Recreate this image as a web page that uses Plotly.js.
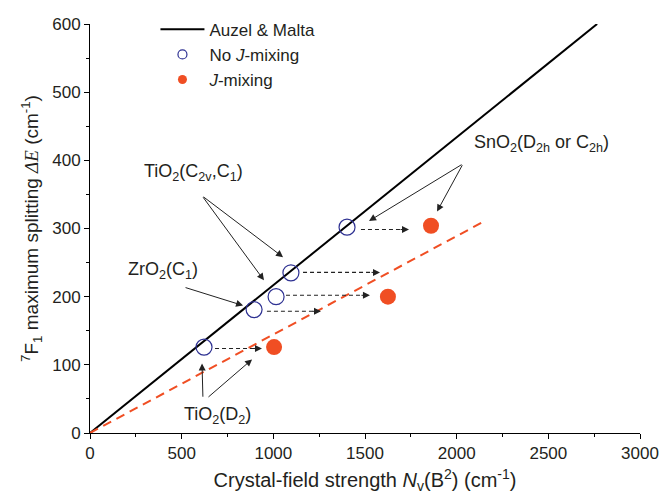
<!DOCTYPE html>
<html>
<head>
<meta charset="utf-8">
<script src="https://cdn.plot.ly/plotly-3.0.1.min.js"></script>
<style>html,body{margin:0;padding:0;background:#fff;}</style>
</head>
<body>
<div id="chart" style="width:662px;height:502px;"></div>
<script>
// ---- data ----
const auzelX = [0, 2766];
const auzelY = [0, 600];
const fitX = [0, 2160];
const fitY = [0, 312];
const noJX = [622, 895, 1015, 1096, 1402];
const noJY = [126, 181, 200, 235, 302];
const jX = [1004, 1625, 1860];
const jY = [126, 200, 304];
// dashed shift arrows (start x, end x, y)
const shiftStartX = [682, 965, 1069, 1162, 1478];
const shiftEndX = [938, 1260, 1527, 1582, 1740];
const shiftY = [124, 178.5, 202, 235.6, 298.5];
// labels and their arrows
const labelText = [
  'SnO<sub>2</sub>(D<sub>2h</sub> or C<sub>2h</sub>)',
  'TiO<sub>2</sub>(C<sub>2v</sub>,C<sub>1</sub>)',
  'ZrO<sub>2</sub>(C<sub>1</sub>)',
  'TiO<sub>2</sub>(D<sub>2</sub>)'
];
const labelX = [2460, 567, 400, 693];
const labelY = [424, 382, 239, 25];
const arrowTailX = [2035, 2035, 611, 611, 513, 616, 638];
const arrowTailY = [395, 395, 348, 348, 214, 51, 51];
const arrowHeadX = [1522, 1893, 1053, 949, 835, 611, 884];
const arrowHeadY = [311, 325, 258, 224, 187, 102, 108];

const FONT = 'Arial, "Liberation Sans", sans-serif';
const TXT = '#231f20';
const ORANGE = '#f04e23';
const BLUE = '#2e3192';

const traces = [
  {x: auzelX, y: auzelY, mode: 'lines', line: {color: '#000', width: 2}, name: 'Auzel &amp; Malta', showlegend: true, hoverinfo: 'skip'},
  {x: fitX, y: fitY, mode: 'lines', line: {color: ORANGE, width: 2, dash: '9px,6px'}, showlegend: false, hoverinfo: 'skip'}
];
for (let i = 0; i < shiftY.length; i++) {
  traces.push({x: [shiftStartX[i], shiftEndX[i]], y: [shiftY[i], shiftY[i]], mode: 'lines',
    line: {color: '#222', width: 1.1, dash: '4px,3px'}, showlegend: false, hoverinfo: 'skip'});
}
traces.push({x: noJX, y: noJY, mode: 'markers', marker: {symbol: 'circle-open', size: 16, color: BLUE, line: {width: 1.2, color: BLUE}}, showlegend: false});
traces.push({x: jX, y: jY, mode: 'markers', marker: {symbol: 'circle', size: 16, color: ORANGE}, showlegend: false});
// legend-only entries with smaller symbols
traces.push({x: [null], y: [null], mode: 'markers', marker: {symbol: 'circle-open', size: 9, color: BLUE, line: {width: 1.2, color: BLUE}}, name: 'No <i>J</i>-mixing'});
traces.push({x: [null], y: [null], mode: 'markers', marker: {symbol: 'circle', size: 9, color: ORANGE}, name: '<i>J</i>-mixing'});

const annotations = [];
for (let i = 0; i < labelText.length; i++) {
  annotations.push({x: labelX[i], y: labelY[i], xref: 'x', yref: 'y', text: labelText[i], showarrow: false,
    font: {family: FONT, size: 18, color: TXT}, xanchor: 'center', yanchor: 'middle'});
}
for (let i = 0; i < arrowTailX.length; i++) {
  annotations.push({x: arrowHeadX[i], y: arrowHeadY[i], ax: arrowTailX[i], ay: arrowTailY[i], xref: 'x', yref: 'y', axref: 'x', ayref: 'y',
    text: '', showarrow: true, arrowhead: 2, arrowsize: 1.4, arrowwidth: 1, arrowcolor: '#222'});
}
for (let i = 0; i < shiftY.length; i++) {
  annotations.push({x: shiftEndX[i], y: shiftY[i], ax: -10, ay: 0, xref: 'x', yref: 'y',
    text: '', showarrow: true, arrowhead: 2, arrowsize: 1.4, arrowwidth: 1, arrowcolor: '#222'});
}

const layout = {
  width: 662, height: 502,
  margin: {l: 90, r: 22, t: 22, b: 69},
  paper_bgcolor: '#fff', plot_bgcolor: '#fff',
  font: {family: FONT, color: TXT, size: 17},
  showlegend: true,
  legend: {x: 0.119, y: 1.03, xanchor: 'left', yanchor: 'top', bgcolor: 'rgba(0,0,0,0)', font: {family: FONT, size: 17, color: TXT}, itemwidth: 44, tracegroupgap: 0},
  xaxis: {
    range: [0, 3000], dtick: 500, tick0: 0, ticks: 'outside', ticklen: 5, tickwidth: 1, tickcolor: '#000',
    minor: {dtick: 250, ticks: 'outside', ticklen: 3, tickwidth: 1, tickcolor: '#000'},
    showline: true, linecolor: '#000', linewidth: 1, showgrid: false, zeroline: false,
    tickfont: {family: FONT, size: 17, color: TXT},
    title: {text: 'Crystal-field strength <i>N</i><sub>v</sub>(B<sup>2</sup>) (cm<sup>-1</sup>)', font: {family: FONT, size: 20, color: TXT}, standoff: 10}
  },
  yaxis: {
    range: [0, 600], dtick: 100, tick0: 0, ticks: 'outside', ticklen: 5, tickwidth: 1, tickcolor: '#000',
    minor: {dtick: 50, ticks: 'outside', ticklen: 3, tickwidth: 1, tickcolor: '#000'},
    showline: true, linecolor: '#000', linewidth: 1, showgrid: false, zeroline: false,
    tickfont: {family: FONT, size: 17, color: TXT},
    title: {text: '<sup>7</sup>F<sub>1</sub> maximum splitting <span style="font-family:\'Liberation Serif\',serif"><i>ΔE</i></span> (cm<sup>-1</sup>)', font: {family: FONT, size: 19, color: TXT}, standoff: 8}
  },
  annotations: annotations
};

Plotly.newPlot('chart', traces, layout, {displayModeBar: false, staticPlot: true});
</script>
</body>
</html>
